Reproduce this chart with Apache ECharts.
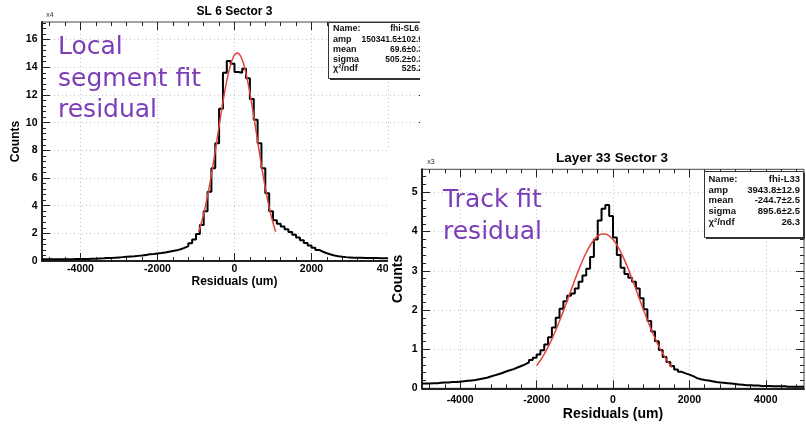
<!DOCTYPE html>
<html>
<head>
<meta charset="utf-8">
<script src="https://cdn.jsdelivr.net/npm/echarts@6/dist/echarts.min.js"></script>
<style>
html,body{margin:0;padding:0;background:#fff;}
#wrap{position:relative;width:806px;height:426px;overflow:hidden;background:#fff;}
#left{position:absolute;left:0;top:0;width:420px;height:300px;}
#right{position:absolute;left:388px;top:150px;width:418px;height:276px;background:#fff;z-index:2;}
</style>
</head>
<body>
<div id="wrap"><div id="left"></div><div id="right"></div></div>
<script>
// ---------------- DATA ----------------
// histogram bins: lower edges from -5000 to 4900, width 100 (um)
const binStart = -5000;
const binWidth = 100;
// Left panel "SL 6 Sector 3": counts in units of 10^4
const leftCounts = [
  0.12,0.12,0.12,0.12,0.13,0.13,0.13,0.13,0.14,0.14,
  0.14,0.15,0.16,0.17,0.18,0.19,0.21,0.22,0.24,0.26,
  0.28,0.30,0.32,0.34,0.37,0.40,0.44,0.48,0.51,0.55,
  0.58,0.62,0.67,0.72,0.77,0.85,0.95,1.08,1.28,1.55,
  1.95,2.6,3.6,5.0,6.7,8.5,11.0,13.6,14.45,14.25,
  13.65,13.6,13.9,13.2,11.7,10.2,8.5,6.7,4.9,3.6,
  2.95,2.7,2.5,2.3,2.1,1.9,1.7,1.5,1.3,1.12,
  0.95,0.8,0.67,0.56,0.47,0.40,0.35,0.31,0.28,0.26,
  0.24,0.23,0.23,0.22,0.22,0.21,0.21,0.20,0.20,0.20,
  0.19,0.19,0.19,0.18,0.18,0.18,0.17,0.17,0.17,0.17
];
// Right panel "Layer 33 Sector 3": counts in units of 10^3
const rightCounts = [
  0.12,0.12,0.13,0.13,0.14,0.15,0.15,0.16,0.16,0.17,
  0.18,0.19,0.20,0.21,0.23,0.25,0.27,0.30,0.33,0.36,
  0.39,0.43,0.46,0.49,0.53,0.57,0.61,0.66,0.72,0.78,
  0.86,0.97,1.12,1.30,1.55,1.80,2.03,2.22,2.36,2.42,
  2.55,2.72,2.88,3.05,3.35,3.80,4.28,4.58,4.68,4.40,
  3.85,3.40,3.08,2.92,2.82,2.72,2.55,2.30,2.02,1.72,
  1.45,1.20,0.98,0.80,0.67,0.57,0.48,0.42,0.38,0.35,
  0.31,0.26,0.23,0.21,0.20,0.18,0.16,0.15,0.14,0.13,
  0.12,0.11,0.10,0.09,0.08,0.08,0.07,0.07,0.06,0.06,
  0.06,0.05,0.05,0.05,0.05,0.04,0.04,0.04,0.04,0.04
];
// Fit curves (red)
const leftFitX = [-930,-830,-730,-630,-530,-430,-330,-230,-130,-30,70,170,270,370,470,570,670,770,870,970,1070];
const leftFitY = [2.12,3.07,4.29,5.75,7.42,9.21,10.99,12.60,13.90,14.74,15.03,14.74,13.90,12.60,10.99,9.21,7.42,5.75,4.29,3.07,2.12];
const rightFitX = [-2000,-1900,-1800,-1700,-1600,-1500,-1400,-1300,-1200,-1100,-1000,-900,-800,-700,-600,-500,-400,-300,-200,-100,0,100,200,300,400,500,600,700,800,900,1000,1100,1200,1300,1400,1500,1550];
const rightFitY = [0.578,0.715,0.873,1.053,1.255,1.477,1.716,1.970,2.233,2.500,2.763,3.017,3.254,3.466,3.645,3.787,3.885,3.936,3.939,3.893,3.799,3.662,3.486,3.278,3.043,2.791,2.528,2.261,1.998,1.742,1.501,1.278,1.074,0.891,0.730,0.591,0.530];
// tick values
const xMajor = [-4000,-2000,0,2000,4000];
const xMinor = [-4800,-4400,-3600,-3200,-2800,-2400,-1600,-1200,-800,-400,400,800,1200,1600,2400,2800,3200,3600,4400,4800];
const leftYMajor = [0,2,4,6,8,10,12,14,16];
const leftYMinor = [0.4,0.8,1.2,1.6,2.4,2.8,3.2,3.6,4.4,4.8,5.2,5.6,6.4,6.8,7.2,7.6,8.4,8.8,9.2,9.6,10.4,10.8,11.2,11.6,12.4,12.8,13.2,13.6,14.4,14.8,15.2,15.6,16.4,16.8,17.2];
const rightYMajor = [0,1,2,3,4,5];
const rightYMinor = [0.2,0.4,0.6,0.8,1.2,1.4,1.6,1.8,2.2,2.4,2.6,2.8,3.2,3.4,3.6,3.8,4.2,4.4,4.6,4.8,5.2,5.4];
// texts
const leftTitle = 'SL 6 Sector 3';
const rightTitle = 'Layer 33 Sector 3';
const xTitle = 'Residuals (um)';
const yTitle = 'Counts';
const statNames = ['Name:', 'amp', 'mean', 'sigma', 'χ²/ndf'];
const leftStatValues = ['fhi-SL6₃', '150341.5±102.9', '69.6±0.3', '505.2±0.3', '525.2'];
const rightStatValues = ['fhi-L33', '3943.8±12.9', '-244.7±2.5', '895.6±2.5', '26.3'];
const leftNote = ['Local', 'segment fit', 'residual'];
const rightNote = ['Track fit', 'residual'];

// ---------------- BUILD ----------------
const FONT = '"Liberation Sans", Arial, Helvetica, sans-serif';
const PURPLE = '#7b3db8';

function histData(counts) {
  const d = counts.map((v, i) => [binStart + i * binWidth, v]);
  d.push([binStart + counts.length * binWidth, counts[counts.length - 1]]);
  return d;
}
function pairs(xs, ys) { return xs.map((x, i) => [x, ys[i]]); }

function txt(x, y, text, font, fill, align, valign, z) {
  return {type: 'text', x: x, y: y, z: z || 60, silent: true,
    style: {text: text, font: font, fill: fill, align: align, textAlign: align,
            verticalAlign: valign, textVerticalAlign: valign}};
}

function buildPanel(dom, P) {
  const chart = echarts.init(dom, null, {renderer: 'canvas'});
  const xBase = {type: 'value', min: -5000, max: 5000, gridIndex: 0};
  const yBase = {type: 'value', min: 0, max: P.yMax, gridIndex: 0};
  const tickCol = '#222';
  const plain = v => String(v);
  function tickAxis(base, pos, values, len) {
    return Object.assign({}, base, {
      position: pos, silent: true,
      axisLine: {show: false, onZero: false},
      axisTick: {show: true, inside: true, length: len, customValues: values, lineStyle: {color: tickCol, width: 1}},
      axisLabel: {show: false},
      splitLine: {show: false}
    });
  }
  const nameStyle = {fontFamily: FONT, fontWeight: 'bold', fontSize: P.nameSize, color: '#000'};
  const labelStyle = {fontFamily: FONT, fontWeight: 'bold', fontSize: P.labelSize, color: '#000'};
  const xAxis = [
    Object.assign({}, xBase, {
      position: 'bottom', name: xTitle, nameLocation: 'middle', nameGap: P.xNameGap, nameTextStyle: nameStyle,
      nameMoveOverlap: false,
      axisLine: {show: true, onZero: false, lineStyle: {color: '#222', width: 2}},
      axisTick: {show: true, inside: true, length: P.majorLen, customValues: xMajor, lineStyle: {color: tickCol, width: 1}},
      axisLabel: Object.assign({show: true, customValues: xMajor, margin: P.xLabelMargin, formatter: plain}, labelStyle),
      splitLine: {show: true, lineStyle: {color: '#c2c2c2', type: [1, 3], width: 1}}
    }),
    tickAxis(xBase, 'bottom', xMinor, P.minorLen),
    tickAxis(xBase, 'top', xMajor, P.majorLen),
    tickAxis(xBase, 'top', xMinor, P.minorLen)
  ];
  const yAxis = [
    Object.assign({}, yBase, {
      position: 'left', name: yTitle, nameLocation: 'middle', nameRotate: 90, nameGap: P.yNameGap, nameTextStyle: nameStyle,
      nameMoveOverlap: false,
      axisLine: {show: true, onZero: false, lineStyle: {color: '#222', width: 2}},
      axisTick: {show: true, inside: true, length: P.majorLen, customValues: P.yMajor, lineStyle: {color: tickCol, width: 1}},
      axisLabel: Object.assign({show: true, customValues: P.yMajor, margin: P.yLabelMargin, formatter: plain}, labelStyle),
      splitLine: {show: true, lineStyle: {color: '#c2c2c2', type: [1, 3], width: 1}}
    }),
    tickAxis(yBase, 'left', P.yMinor, P.minorLen),
    tickAxis(yBase, 'right', P.yMajor, P.majorLen),
    tickAxis(yBase, 'right', P.yMinor, P.minorLen)
  ];

  const g = [];
  g.push(txt(P.titleX, P.titleY, P.title, 'bold ' + P.titleSize + 'px ' + FONT, '#000', 'center', 'middle'));
  g.push(txt(P.multX, P.multY, P.mult, '7px ' + FONT, '#333', 'center', 'middle'));
  // stats box
  const B = P.box;
  g.push({type: 'rect', z: 55, silent: true, shape: {x: B.x + 1.5, y: B.y + 1.5, width: B.w, height: B.h}, style: {fill: '#333'}});
  g.push({type: 'rect', z: 56, silent: true, shape: {x: B.x, y: B.y, width: B.w, height: B.h}, style: {fill: '#fff', stroke: '#333', lineWidth: 1}});
  statNames.forEach((n, i) => {
    g.push(txt(B.nameX, B.rows[i], n, 'bold ' + B.font + 'px ' + FONT, '#111', 'left', 'middle'));
    g.push(txt(B.valX, B.rows[i], P.statValues[i], 'bold ' + B.vfont + 'px ' + FONT, '#111', 'right', 'middle'));
  });
  // purple annotation
  P.note.forEach((s, i) => {
    g.push(txt(P.noteX, P.noteY[i], s, P.noteSize + 'px "DejaVu Sans", sans-serif', PURPLE, 'left', 'middle'));
  });

  chart.setOption({
    animation: false,
    textStyle: {fontFamily: FONT},
    grid: {left: P.grid.left, top: P.grid.top, width: P.grid.width, height: P.grid.height,
           show: true, borderColor: '#444', borderWidth: 1, backgroundColor: 'rgba(0,0,0,0)',
           containLabel: false, outerBoundsMode: 'none'},
    xAxis: xAxis,
    yAxis: yAxis,
    series: [
      {type: 'line', name: 'histogram', xAxisIndex: 0, yAxisIndex: 0, step: 'end', symbol: 'none', showSymbol: false,
       data: histData(P.counts), lineStyle: {color: '#000', width: 2}, z: 3, silent: true},
      {type: 'line', name: 'fit', xAxisIndex: 0, yAxisIndex: 0, smooth: 0.3, symbol: 'none', showSymbol: false,
       data: pairs(P.fitX, P.fitY), lineStyle: {color: '#e3443c', width: 1.5}, z: 4, silent: true}
    ],
    graphic: {elements: g}
  });
  return chart;
}

buildPanel(document.getElementById('left'), {
  grid: {left: 42, top: 22, width: 385, height: 239},
  yMax: 17.27, yMajor: leftYMajor, yMinor: leftYMinor,
  counts: leftCounts, fitX: leftFitX, fitY: leftFitY,
  title: leftTitle, titleX: 234.5, titleY: 12, titleSize: 12,
  mult: 'x4', multX: 50, multY: 15,
  nameSize: 12, labelSize: 10.5, xNameGap: 15, yNameGap: 20, xLabelMargin: 3, yLabelMargin: 4.5,
  majorLen: 8, minorLen: 4,
  statValues: leftStatValues,
  box: {x: 328.5, y: 22.5, w: 99, h: 56, nameX: 333, valX: 423, rows: [29, 39.3, 49.3, 59.3, 69], font: 9, vfont: 8.5},
  note: leftNote, noteX: 58, noteY: [47.5, 79, 110.5], noteSize: 25
});

buildPanel(document.getElementById('right'), {
  grid: {left: 34, top: 19.3, width: 382, height: 219},
  yMax: 5.59, yMajor: rightYMajor, yMinor: rightYMinor,
  counts: rightCounts, fitX: rightFitX, fitY: rightFitY,
  title: rightTitle, titleX: 224, titleY: 8, titleSize: 13.5,
  mult: 'x3', multX: 43, multY: 12,
  nameSize: 14, labelSize: 10.5, xNameGap: 19, yNameGap: 17, xLabelMargin: 6, yLabelMargin: 4.5,
  majorLen: 8, minorLen: 4,
  statValues: rightStatValues,
  box: {x: 316.5, y: 21.5, w: 99, h: 66, nameX: 320.5, valX: 412, rows: [29, 40, 50.7, 61.7, 72.3], font: 9.5, vfont: 9.5},
  note: rightNote, noteX: 55, noteY: [50.8, 82.5], noteSize: 25
});
</script>
</body>
</html>
